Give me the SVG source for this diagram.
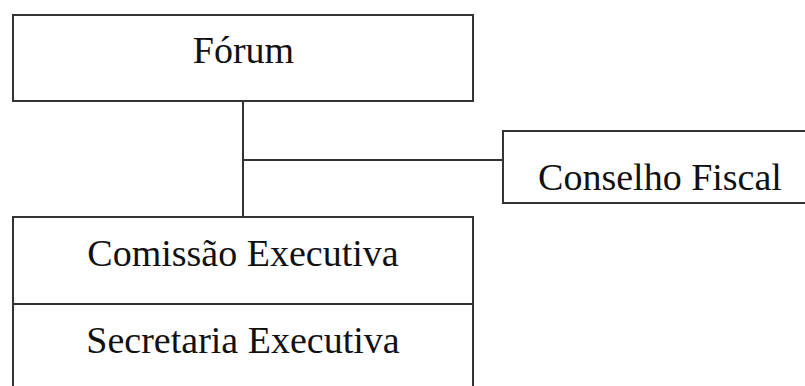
<svg xmlns="http://www.w3.org/2000/svg" width="805" height="386" viewBox="0 0 805 386">
<style>
.box{fill:#fff;stroke:#333;stroke-width:2}
.ln{fill:none;stroke:#333;stroke-width:2}
.t{font-family:"Liberation Serif","Times New Roman",serif;font-size:38px;fill:#111;text-anchor:middle}
</style>
<rect width="805" height="386" fill="#fff"/>
<g id="connectors">
<line class="ln" x1="243" y1="101" x2="243" y2="217"/>
<line class="ln" x1="243" y1="160" x2="503" y2="160"/>
</g>
<g id="forum">
<rect class="box" x="13" y="15" width="460" height="86"/>
<text class="t" x="243.5" y="63">Fórum</text>
</g>
<g id="conselho-fiscal">
<rect class="box" x="503" y="131" width="315" height="72"/>
<text class="t" x="660" y="190">Conselho Fiscal</text>
</g>
<g id="comissao-executiva">
<rect class="box" x="13" y="217" width="460" height="200"/>
<text class="t" x="243" y="266">Comissão Executiva</text>
</g>
<g id="secretaria-executiva">
<line class="ln" x1="13" y1="304" x2="473" y2="304"/>
<text class="t" x="243" y="353">Secretaria Executiva</text>
</g>
</svg>
